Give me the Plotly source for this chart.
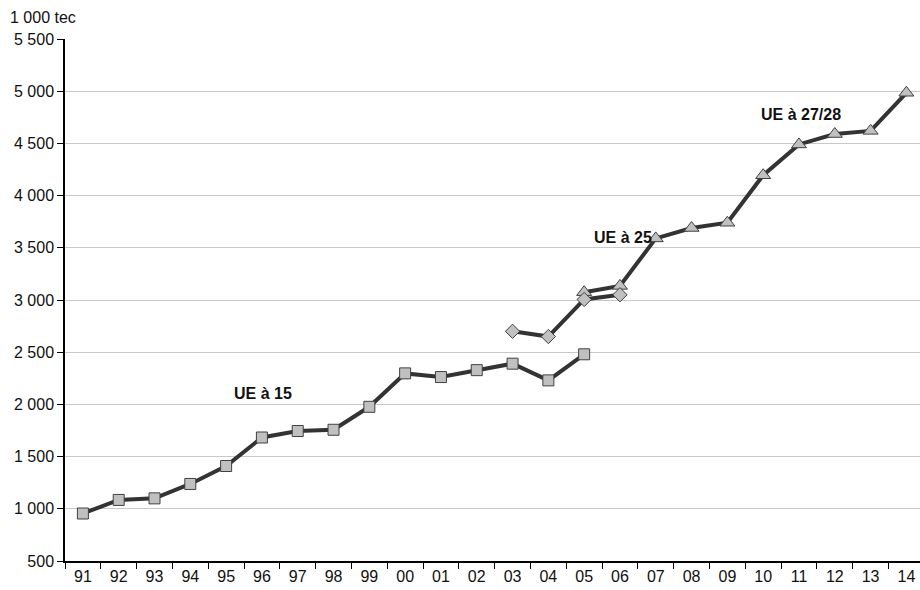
import plotly.graph_objects as go

# Year labels (1991-2014)
years = ["91", "92", "93", "94", "95", "96", "97", "98", "99", "00", "01", "02",
         "03", "04", "05", "06", "07", "08", "09", "10", "11", "12", "13", "14"]

# EU-15 series, 1991-2005 (thousand tce)
ue15_years = years[0:15]
ue15_values = [955, 1085, 1100, 1238, 1410, 1683, 1745, 1757, 1977, 2297,
               2262, 2328, 2390, 2230, 2480]

# EU-25 series, 2003-2006
ue25_years = ["03", "04", "05", "06"]
ue25_values = [2700, 2650, 3005, 3050]

# EU-27/28 series, 2005-2014
ue27_years = ["05", "06", "07", "08", "09", "10", "11", "12", "13", "14"]
ue27_values = [3075, 3135, 3590, 3690, 3740, 4195, 4490, 4590, 4620, 4985]

y_ticks = [500, 1000, 1500, 2000, 2500, 3000, 3500, 4000, 4500, 5000, 5500]

FONT = "Liberation Sans, Arial, sans-serif"
LINE_COLOR = "#333333"
FILL = "#c0c0c0"
EDGE = "#404040"


def series(x, y, symbol, size):
    return go.Scatter(
        x=x, y=y, mode="lines+markers",
        line=dict(color=LINE_COLOR, width=4),
        marker=dict(symbol=symbol, size=size, color=FILL,
                    line=dict(color=EDGE, width=1)),
        showlegend=False, cliponaxis=False,
    )


fig = go.Figure()
fig.add_trace(series(ue27_years, ue27_values, "triangle-up", 13))
fig.add_trace(series(ue25_years, ue25_values, "diamond", 11))
fig.add_trace(series(ue15_years, ue15_values, "square", 11))

fig.update_layout(
    width=920, height=590,
    margin=dict(l=65, r=0, t=39, b=29),
    paper_bgcolor="white", plot_bgcolor="white",
    font=dict(family=FONT, size=16, color="#111111"),
    separators=". ",
    xaxis=dict(
        type="category", categoryorder="array", categoryarray=years,
        range=[-0.5, 23.38], tickson="boundaries",
        ticks="outside", ticklen=6, tickcolor="#000", tickwidth=1,
        showline=True, linecolor="#000", linewidth=1.5,
        showgrid=False, zeroline=False, fixedrange=True,
        tickfont=dict(size=16),
    ),
    yaxis=dict(
        range=[500, 5500], tickvals=y_ticks, tickformat=",d",
        ticks="outside", ticklen=6, tickcolor="#000", tickwidth=1,
        showline=True, linecolor="#000", linewidth=1.5,
        showgrid=True, gridcolor="#c8c8c8", gridwidth=1,
        zeroline=False, fixedrange=True,
        tickfont=dict(size=16),
    ),
    annotations=[
        dict(text="1 000 tec", xref="paper", yref="paper", x=-65 / 855, y=1 + 22 / 522,
             xanchor="left", yanchor="middle", showarrow=False,
             xshift=8, font=dict(size=16)),
        dict(text="<b>UE à 15</b>", x=5.03, y=2100,
             showarrow=False, font=dict(size=16)),
        dict(text="<b>UE à 25</b>", x=15.09, y=3594,
             showarrow=False, font=dict(size=16)),
        dict(text="<b>UE à 27/28</b>", x=20.06, y=4773,
             showarrow=False, font=dict(size=16)),
    ],
)

fig.write_html("out.html")
